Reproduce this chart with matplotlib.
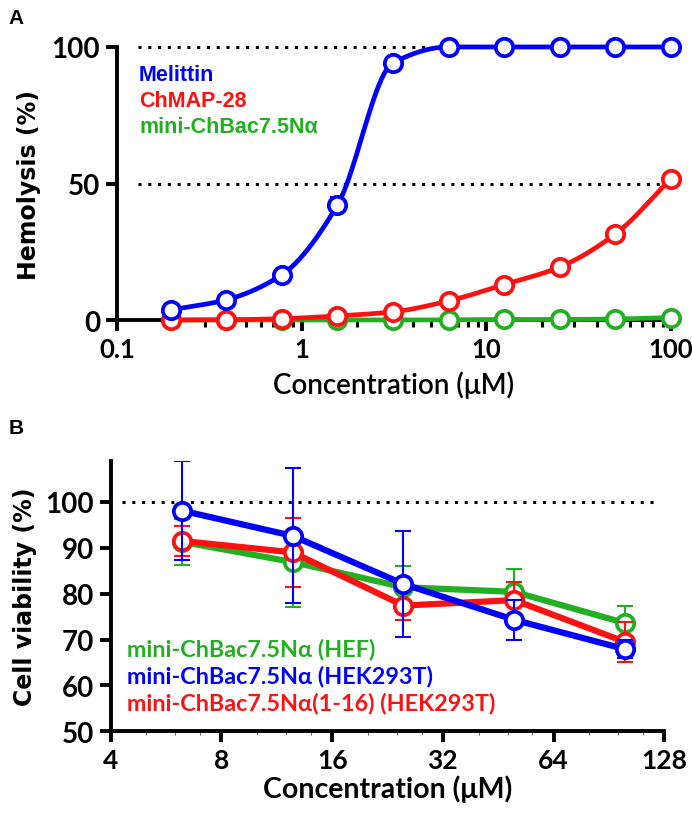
import numpy as np
import matplotlib
matplotlib.use("Agg")
import matplotlib.pyplot as plt
from matplotlib.ticker import FixedLocator, LogLocator, NullFormatter, FuncFormatter

BLUE = "#0000ff"
RED = "#ff1111"
GREEN = "#22b022"

# ---- panel A: hemolysis ----
conc_a = [0.1953125, 0.390625, 0.78125, 1.5625, 3.125, 6.25, 12.5, 25, 50, 100]
melittin = [3.7, 7.4, 16.6, 42.1, 94.2, 100, 100, 100, 100, 100]
melittin_err = [0, 0, 0, 3.0, 0, 0, 0, 0, 0, 0]
chmap28 = [0.0, 0.1, 0.5, 1.5, 3.0, 7.0, 13.0, 19.4, 31.5, 51.8]
minichbac = [0.0, 0.0, 0.0, 0.0, 0.0, 0.1, 0.2, 0.2, 0.4, 0.9]
labels_a = ["Melittin", "ChMAP-28", "mini-ChBac7.5N\u03b1"]

# ---- panel B: cell viability ----
conc_b = [6.25, 12.5, 25, 50, 100]
hef = [91.3, 86.9, 81.4, 80.4, 73.6]
hef_err = [5.0, 9.7, 4.7, 5.0, 3.7]
hek = [98.1, 92.6, 82.1, 74.3, 67.9]
hek_err = [10.8, 14.7, 11.5, 4.4, 2.0]
hek116 = [91.5, 89.0, 77.4, 78.6, 69.5]
hek116_err = [3.3, 7.5, 3.2, 4.0, 4.3]
labels_b = ["mini-ChBac7.5N\u03b1 (HEF)", "mini-ChBac7.5N\u03b1 (HEK293T)",
            "mini-ChBac7.5N\u03b1(1-16) (HEK293T)"]


def smooth(x, y, n=400):
    # monotone cubic (Fritsch-Carlson) in log10(x), only to draw a smooth line
    lx = np.log10(x)
    y = np.asarray(y, float)
    h = np.diff(lx)
    d = np.diff(y) / h
    m = np.zeros_like(y)
    m[0], m[-1] = d[0], d[-1]
    for k in range(1, len(y) - 1):
        if d[k - 1] * d[k] <= 0:
            m[k] = 0
        else:
            w1 = 2 * h[k] + h[k - 1]
            w2 = h[k] + 2 * h[k - 1]
            m[k] = (w1 + w2) / (w1 / d[k - 1] + w2 / d[k])
    xs = np.linspace(lx[0], lx[-1], n)
    idx = np.clip(np.searchsorted(lx, xs) - 1, 0, len(lx) - 2)
    t = (xs - lx[idx]) / h[idx]
    h00 = 2 * t**3 - 3 * t**2 + 1
    h10 = t**3 - 2 * t**2 + t
    h01 = -2 * t**3 + 3 * t**2
    h11 = t**3 - t**2
    ys = h00 * y[idx] + h10 * h[idx] * m[idx] + h01 * y[idx + 1] + h11 * h[idx] * m[idx + 1]
    return 10**xs, ys


fig = plt.figure(figsize=(6.92, 8.2), dpi=100)

# ================= A =================
ax = fig.add_axes([0.169, 0.6085, 0.8006, 0.333])
ax.set_xscale("log")
ax.set_xlim(0.1, 100)
ax.set_ylim(0, 100)
for yv in (50, 100):
    ax.plot([0.13, 100], [yv, yv], color="black", lw=2.2, linestyle=(0, (1, 2.2)),
            zorder=1, clip_on=False)

for yv, col, z in [(minichbac, GREEN, 3), (chmap28, RED, 4), (melittin, BLUE, 5)]:
    sx, sy = smooth(conc_a, yv)
    ax.plot(sx, sy, color=col, lw=3.4, zorder=z, clip_on=False)
    ax.plot(conc_a, yv, "o", ms=12.5, mfc="white", mec=col, mew=2.7, zorder=z + 0.5, clip_on=False)
ax.errorbar(conc_a[3], melittin[3], yerr=melittin_err[3], color=BLUE, lw=1.5, capsize=5,
            capthick=1.5, zorder=5.2, fmt="none")

for sp in ("top", "right"):
    ax.spines[sp].set_visible(False)
for sp in ("left", "bottom"):
    ax.spines[sp].set_linewidth(2.8)
ax.set_yticks([0, 50, 100])
ax.xaxis.set_major_locator(FixedLocator([0.1, 1, 10, 100]))
ax.xaxis.set_minor_locator(LogLocator(base=10, subs=np.arange(2, 10)))
ax.xaxis.set_minor_formatter(NullFormatter())
ax.xaxis.set_major_formatter(FuncFormatter(lambda v, p: "0.1" if v < 0.5 else "%d" % v))
ax.tick_params(axis="both", which="major", length=8, width=2.8, direction="out", pad=4)
ax.tick_params(axis="x", which="minor", length=5, width=2.2, direction="out")
for lab in ax.get_xticklabels():
    lab.set_fontproperties({"family": "Lato", "weight": "bold", "size": 18.5})
for lab in ax.get_yticklabels():
    lab.set_fontproperties({"family": "Lato", "weight": "bold", "size": 20})
ax.set_xlabel("Concentration (\u03bcM)", fontsize=20, family="Lato", weight="semibold", labelpad=7)
ax.set_ylabel("Hemolysis (%)", fontsize=17, family="DejaVu Sans", weight="bold", labelpad=8)

for i, (txt, col) in enumerate(zip(labels_a, [BLUE, RED, GREEN])):
    ax.text(0.04, 0.9 - i * 0.095, txt, transform=ax.transAxes, color=col, fontsize=15.5,
            family="Liberation Sans", weight="bold", va="center", ha="left")

fig.text(0.012, 0.978, "A", fontsize=15, family="Liberation Sans", weight="bold", va="center")

# ================= B =================
bx = fig.add_axes([0.160, 0.107, 0.800, 0.330])
bx.set_xscale("log", base=2)
bx.set_xlim(4, 128)
bx.set_ylim(50, 109)
bx.plot([4.3, 124], [100, 100], color="black", lw=2.2, linestyle=(0, (1, 2.2)), zorder=1,
        clip_on=False)

series_b = [(hef, hef_err, GREEN, 3), (hek116, hek116_err, RED, 4), (hek, hek_err, BLUE, 5)]
for yv, ev, col, z in series_b:
    bx.errorbar(conc_b, yv, yerr=ev, fmt="none", ecolor=col, elinewidth=1.5, capsize=6,
                capthick=1.5, zorder=z)
for yv, ev, col, z in series_b:
    bx.plot(conc_b, yv, "-", color=col, lw=4.5, zorder=z + 0.2, clip_on=False)
    bx.plot(conc_b, yv, "o", ms=12.5, mfc="white", mec=col, mew=2.7, zorder=z + 0.3, clip_on=False)

for sp in ("top", "right"):
    bx.spines[sp].set_visible(False)
for sp in ("left", "bottom"):
    bx.spines[sp].set_linewidth(2.8)
bx.set_yticks([50, 60, 70, 80, 90, 100])
bx.xaxis.set_major_locator(FixedLocator([4, 8, 16, 32, 64, 128]))
bx.xaxis.set_major_formatter(FuncFormatter(lambda v, p: "%d" % v))
bx.xaxis.set_minor_locator(LogLocator(base=2, subs=(1.25, 1.5, 1.75)))
bx.xaxis.set_minor_formatter(NullFormatter())
bx.tick_params(axis="both", which="major", length=8, width=2.8, direction="out", pad=4)
bx.tick_params(axis="x", which="minor", length=3, width=0.8, direction="out", color="#777777")
for lab in bx.get_xticklabels():
    lab.set_fontproperties({"family": "Lato", "weight": "bold", "size": 19})
for lab in bx.get_yticklabels():
    lab.set_fontproperties({"family": "Lato", "weight": "bold", "size": 20})
bx.set_xlabel("Concentration (\u03bcM)", fontsize=20.5, family="Lato", weight="bold", labelpad=2)
bx.set_ylabel("Cell viability (%)", fontsize=17, family="DejaVu Sans", weight="bold", labelpad=6)

for i, (txt, col) in enumerate(zip(labels_b, [GREEN, BLUE, RED])):
    bx.text(0.03, 0.305 - i * 0.1, txt, transform=bx.transAxes, color=col, fontsize=16.8,
            family="Lato", weight="bold", va="center", ha="left")

fig.text(0.012, 0.478, "B", fontsize=15, family="Liberation Sans", weight="bold", va="center")

fig.savefig("out.png", dpi=100)
